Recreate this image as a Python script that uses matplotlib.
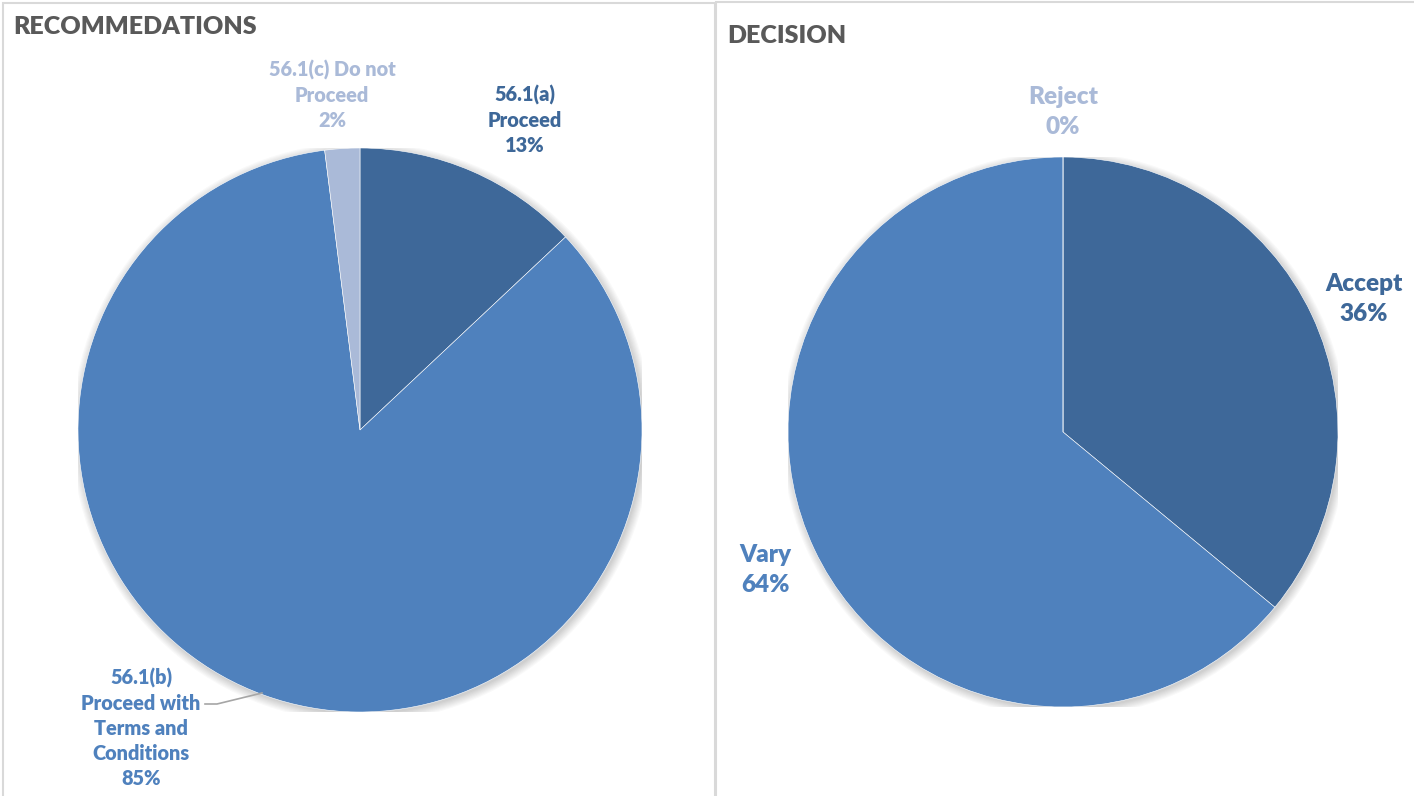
import matplotlib.pyplot as plt
from matplotlib.patches import Rectangle, Circle

plt.rcParams['font.family'] = ['Lato', 'DejaVu Sans']

W, H = 1414, 796

rec_labels = ['56.1(a)\nProceed', '56.1(b)\nProceed with\nTerms and\nConditions', '56.1(c) Do not\nProceed']
rec_values = [13, 85, 2]
dec_labels = ['Accept', 'Vary', 'Reject']
dec_values = [36, 64, 0]

colors = ['#3E6899', '#4F81BD', '#AABAD8']
title_color = '#595959'
border = '#D9D9D9'

fig = plt.figure(figsize=(W / 100, H / 100), dpi=100)


def px_axes(cx, cy, r):
    # square axes centred on pixel (cx, cy), y measured from top
    return fig.add_axes([(cx - r) / W, (H - cy - r) / H, 2 * r / W, 2 * r / H])


def shadow(ax):
    for i in range(8):
        ax.add_patch(Circle((0.006, -0.008), 1 + 0.004 * i, color='black',
                            alpha=0.025, lw=0, zorder=0))


def draw_pie(ax, values):
    shadow(ax)
    ax.pie(values, colors=colors, startangle=90, counterclock=False,
           wedgeprops=dict(edgecolor='white', linewidth=0.4), radius=1)
    ax.set_xlim(-1, 1)
    ax.set_ylim(-1, 1)
    ax.set_aspect('equal')
    ax.axis('off')


# panel frames
fig.patches.append(Rectangle((3 / W, -0.1), 712 / W, 1.1 - 3 / H, transform=fig.transFigure,
                             fill=False, edgecolor=border, lw=1.5))
fig.patches.append(Rectangle((716 / W, -0.1), 720 / W, 1.1 - 2 / H, transform=fig.transFigure,
                             fill=False, edgecolor=border, lw=1.5))

# left pie
ax1 = px_axes(360, 430, 282)
draw_pie(ax1, rec_values)
fig.text(13 / W, 1 - 27 / H, 'RECOMMEDATIONS', fontsize=18, fontweight='heavy',
         color=title_color, va='center', ha='left')

rec_pos = [(525, 120), (141, 728), (332, 95)]
for lab, v, (x, y), c in zip(rec_labels, rec_values, rec_pos, colors):
    fig.text(x / W, 1 - y / H, f'{lab}\n{v}%', fontsize=14.3, fontweight='heavy', color=c,
             ha='center', va='center', linespacing=1.37)

# leader line for the big slice
lx = [(205 - 360) / 282, (217 - 360) / 282, (262 - 360) / 282]
ly = [(430 - 704) / 282, (430 - 704) / 282, (430 - 693) / 282]
ax1.plot(lx, ly, color='#A6A6A6', lw=1.2, clip_on=False)

# right pie
ax2 = px_axes(1063, 432, 275)
draw_pie(ax2, dec_values)
fig.text(727 / W, 1 - 36 / H, 'DECISION', fontsize=18, fontweight='heavy',
         color=title_color, va='center', ha='left')

dec_pos = [(1364, 299), (765, 570), (1063, 112)]
for lab, v, (x, y), c in zip(dec_labels, dec_values, dec_pos, colors):
    fig.text(x / W, 1 - y / H, f'{lab}\n{v}%', fontsize=17.5, fontweight='heavy', color=c,
             ha='center', va='center', linespacing=1.39)

fig.savefig('out.png', dpi=100)
